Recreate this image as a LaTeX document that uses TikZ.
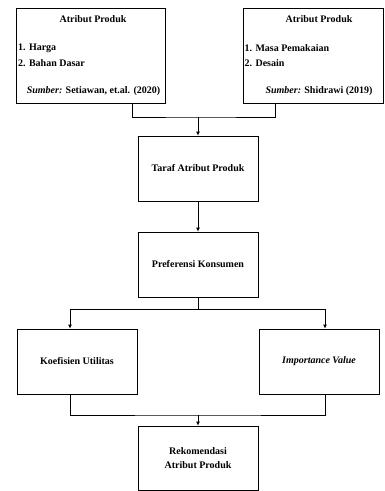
\documentclass[tikz,border=0pt]{standalone}
\usepackage{fontspec}
\setmainfont{Liberation Serif}
\usetikzlibrary{arrows.meta}
\begin{document}
\begin{tikzpicture}[x=1pt,y=-1pt,
  font=\fontsize{10}{12}\selectfont\bfseries,
  box/.style={draw, line width=0.8pt, rectangle, minimum width=120pt, minimum height=65pt, inner sep=0pt, align=center},
  conn/.style={line width=0.8pt},
  arr/.style={line width=0.8pt, -{Latex[length=4pt,width=4pt]}},
  txt/.style={inner sep=0pt}]
\useasboundingbox (0,0) rectangle (385,491);
% top boxes
\node[box, minimum width=149pt, minimum height=95pt] (tl) at (90.5,55.5) {};
\node[box, minimum width=140pt, minimum height=95pt] (tr) at (313,55.5) {};
\node[txt] (tlh) at (93,19) {Atribut Produk};
\node[txt, anchor=west] (tl1) at (18,48) {1. Harga};
\node[txt, anchor=west] (tl2) at (18,63) {2. Bahan Dasar};
\node[txt] (tls) at (93.5,91) {\textit{Sumber:} Setiawan, et.al. (2020)};
\node[txt] (trh) at (319,19) {Atribut Produk};
\node[txt, anchor=west] (tr1) at (244.5,48) {1. Masa Pemakaian};
\node[txt, anchor=west] (tr2) at (244.5,63) {2. Desain};
\node[txt] (trs) at (319,91) {\textit{Sumber:} Shidrawi (2019)};
% middle boxes
\node[box] (taraf) at (198,168.5) {Taraf Atribut Produk};
\node[box] (pref) at (198,264.5) {Preferensi Konsumen};
\node[box] (koef) at (77,361.5) {Koefisien Utilitas};
\node[box] (imp) at (319,361.5) {\textit{Importance Value}};
\node[box, minimum height=64pt] (rek) at (198,458) {Rekomendasi\\[2pt]Atribut Produk};
% junctions
\coordinate (j1) at (198,117);
\coordinate (j2) at (198,309);
\coordinate (j3) at (198,415);
% connectors
\draw[conn] ([xshift=41.5pt]tl.south) |- (j1) -| ([xshift=-38pt]tr.south);
\draw[arr] (j1) -- (taraf.north);
\draw[arr] (taraf.south) -- (pref.north);
\draw[conn] (pref.south) -- (j2);
\draw[arr] (j2) -| ([xshift=-7pt]koef.north);
\draw[arr] (j2) -| ([xshift=6pt]imp.north);
\draw[conn] ([xshift=-7pt]koef.south) |- (j3) -| ([xshift=6pt]imp.south);
\draw[arr] (j3) -- (rek.north);
\end{tikzpicture}
\end{document}
